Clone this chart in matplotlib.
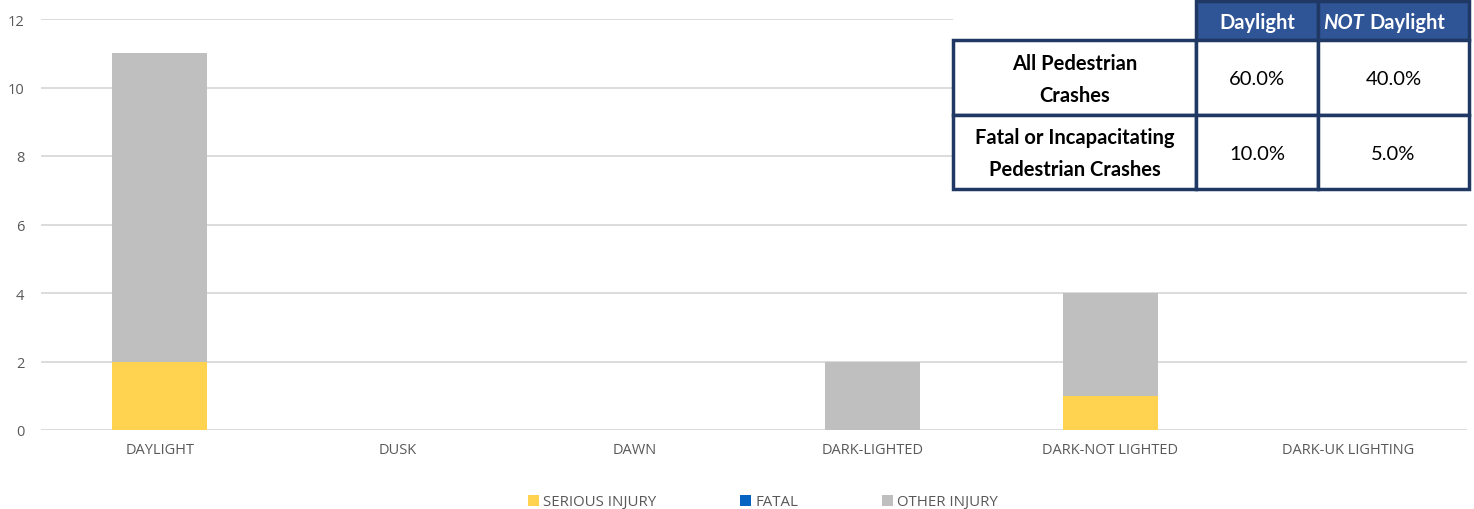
import matplotlib
matplotlib.use("Agg")
import matplotlib.pyplot as plt
from matplotlib.patches import Rectangle
import numpy as np

categories = ["DAYLIGHT", "DUSK", "DAWN", "DARK-LIGHTED", "DARK-NOT LIGHTED", "DARK-UK LIGHTING"]
serious = [2, 0, 0, 0, 1, 0]
fatal = [0, 0, 0, 0, 0, 0]
other = [9, 0, 0, 2, 3, 0]
series_names = ["SERIOUS INJURY", "FATAL", "OTHER INJURY"]
colors = ["#FFD34F", "#0563C1", "#BFBFBF"]

table_cols = ["Daylight", "NOT Daylight"]
table_rows = ["All Pedestrian\nCrashes", "Fatal or Incapacitating\nPedestrian Crashes"]
table_vals = [["60.0%", "40.0%"], ["10.0%", "5.0%"]]

W, H = 1474, 510
fig = plt.figure(figsize=(W / 100, H / 100), dpi=100)
ax = fig.add_axes([41 / W, 1 - 431 / H, (1467 - 41) / W, (431 - 20) / H])

x = np.arange(len(categories))
bw = 0.4
b0 = np.zeros(len(categories))
for vals, name, c in zip([serious, fatal, other], series_names, colors):
    ax.bar(x, vals, bw, bottom=b0, color=c, label=name, zorder=3)
    b0 = b0 + np.array(vals)

ax.set_xlim(-0.5, len(categories) - 0.5)
ax.set_ylim(0, 12)
ax.set_yticks(range(0, 13, 2))
ax.yaxis.grid(True, color="#D9D9D9", linewidth=1.3, zorder=0)
ax.set_axisbelow(True)
for s in ax.spines.values():
    s.set_visible(False)
ax.tick_params(axis="both", length=0, labelsize=10.5, labelcolor="#595959", pad=9)
ax.tick_params(axis="y", pad=12)
ax.set_xticks(x)
ax.set_xticklabels(categories, fontfamily="Open Sans")
for lab in ax.get_yticklabels():
    lab.set_fontfamily("Open Sans")

leg = fig.legend(loc="center", bbox_to_anchor=(763 / W, 1 - 503 / H), ncol=3, frameon=False,
                 prop={"family": "Open Sans", "size": 10.8}, handlelength=0.7, handleheight=0.7,
                 columnspacing=5.6, handletextpad=0.3)
for t in leg.get_texts():
    t.set_color("#595959")

# Table overlay (pixel coordinates, y from top)
def px(xp, yp):
    return xp / W, 1 - yp / H

navy = "#1F3864"
head = "#2F5597"
xs = [953, 1196, 1318, 1469]
ys_head = (2, 41)
ys = [41, 116, 190]

def rect(x0, y0, x1, y1, fc, lw=0, ec="none", z=10):
    fig.patches.append(Rectangle(px(x0, y1), (x1 - x0) / W, (y1 - y0) / H, transform=fig.transFigure,
                                 facecolor=fc, edgecolor=ec, linewidth=lw, zorder=z))

# white cover
rect(953, 0, 1474, 192, "white", z=9)
# header cells
rect(1196, ys_head[0], 1318, ys_head[1], head, lw=2.5, ec=navy)
rect(1318, ys_head[0], 1469, ys_head[1], head, lw=2.5, ec=navy)
# body cells
for r in range(2):
    for cidx in range(3):
        rect(xs[cidx], ys[r], xs[cidx + 1], ys[r + 1], "white", lw=2.5, ec=navy)

tf = "Lato"
fs = 14.5
hx1 = (1196 + 1318) / 2
fig.text(*px(hx1, 23), table_cols[0], ha="center", va="center", color="white", fontsize=fs,
         fontweight="bold", fontfamily=tf, zorder=12)
not_word, day_word = table_cols[1].split(" ", 1)
fig.text(*px(1364, 23), not_word, ha="right", va="center", color="white", fontsize=fs,
         fontweight="bold", fontstyle="italic", fontfamily=tf, zorder=12)
fig.text(*px(1369, 23), day_word, ha="left", va="center", color="white", fontsize=fs,
         fontweight="bold", fontfamily=tf, zorder=12)
for r in range(2):
    yc = (ys[r] + ys[r + 1]) / 2
    fig.text(*px((xs[0] + xs[1]) / 2, yc + 1), table_rows[r], ha="center", va="center", color="black",
             fontsize=fs, fontweight="bold", fontfamily=tf, linespacing=1.75, zorder=12)
    for cidx in range(2):
        fig.text(*px((xs[cidx + 1] + xs[cidx + 2]) / 2, yc + 1), table_vals[r][cidx], ha="center", va="center",
                 color="black", fontsize=fs, fontfamily=tf, zorder=12)

fig.savefig("out.png", dpi=100)
